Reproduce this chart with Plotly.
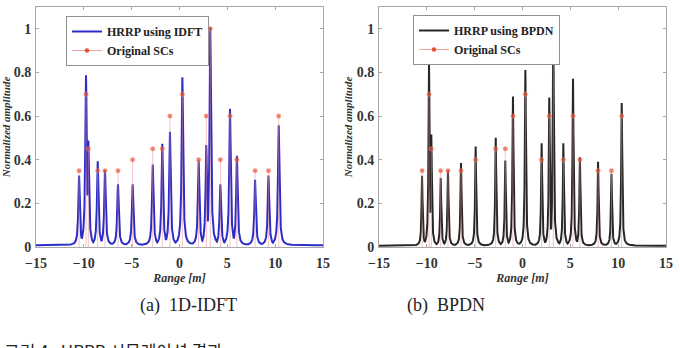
import numpy as np
import plotly.graph_objects as go

# ---- data ----
sc_pos = [-10.5, -9.77, -9.53, -8.55, -7.79, -6.43, -4.9, -2.8, -1.8, -1.0,
          0.3, 2.0, 2.8, 3.22, 4.27, 5.28, 6.0, 7.9, 9.3, 10.37]
sc_amp = [0.35, 0.70, 0.45, 0.35, 0.35, 0.35, 0.40, 0.45, 0.45, 0.60,
          0.70, 0.40, 0.60, 1.00, 0.40, 0.60, 0.40, 0.35, 0.35, 0.60]
idft_peak = [0.32, 0.78, 0.48, 0.385, 0.345, 0.28, 0.28, 0.37, 0.465, 0.52,
             0.77, 0.39, 0.46, 1.00, 0.28, 0.625, 0.41, 0.30, 0.32, 0.55]
bpdn_peak = [0.32, 0.835, 0.51, 0.31, 0.345, 0.38, 0.455, 0.495, 0.39, 0.685,
             0.805, 0.47, 0.68, 1.00, 0.47, 0.765, 0.405, 0.385, 0.33, 0.655]
x_ticks = [-15, -10, -5, 0, 5, 10, 15]
y_ticks = [0, 0.2, 0.4, 0.6, 0.8, 1]
caption_a = "(a)  1D-IDFT"
caption_b = "(b)  BPDN"
fig_caption = "그림 4.  HRRP 시뮬레이션 결과"

# ---- range profiles built from the peak list ----
rng = np.linspace(-15, 15, 4001)


def profile(pos, heights, width, floor):
    prof = np.zeros_like(rng)
    for p, h in zip(pos, heights):
        prof = np.maximum(prof, h / (1 + ((rng - p) / width) ** 2))
    return prof + floor


idft = profile(sc_pos, idft_peak, 0.09, 0.008)
bpdn = profile(sc_pos, bpdn_peak, 0.065, 0.006)

# stems for original scattering centres
stem_x, stem_y, stem_s = [], [], []
for p, a in zip(sc_pos, sc_amp):
    stem_x += [p, p, None]
    stem_y += [0, a, None]
    stem_s += [0, 4.5, 0]

serif = "Liberation Serif"
stem_line = dict(color="rgba(240,140,140,0.55)", width=1)
dot_color = "#e8502a"

fig = go.Figure()
for xa_, ya_, lg, name, y, col in [("x", "y", "legend", "HRRP using IDFT", idft, "#2c2cc8"),
                                    ("x2", "y2", "legend2", "HRRP using BPDN", bpdn, "#262626")]:
    fig.add_trace(go.Scatter(x=rng, y=y, mode="lines", name=name,
                             line=dict(color=col, width=2),
                             xaxis=xa_, yaxis=ya_, legend=lg))
    fig.add_trace(go.Scatter(x=stem_x, y=stem_y, mode="lines+markers", name="Original SCs",
                             line=stem_line, marker=dict(color=dot_color, size=stem_s),
                             xaxis=xa_, yaxis=ya_, showlegend=False))
    fig.add_trace(go.Scatter(x=[None], y=[None], mode="lines+markers", name="Original SCs",
                             line=dict(color="rgba(240,140,140,0.8)", width=1),
                             marker=dict(color=dot_color, size=4.5),
                             xaxis=xa_, yaxis=ya_, legend=lg))

ydom = [1 - 247 / 348, 1 - 7 / 348]
tickfont = dict(family=serif, size=14, color="#333", weight="bold")
axis_common = dict(showline=True, linecolor="#a8a8a8", linewidth=1, mirror="allticks",
                   ticks="inside", ticklen=3, tickcolor="#a8a8a8", showgrid=False,
                   zeroline=False, tickfont=tickfont, automargin=False)

xa = dict(axis_common, range=[-15, 15], tickvals=x_ticks, ticklabelstandoff=3,
          title=dict(text="<i>Range [m]</i>",
                     font=dict(family=serif, size=12, color="#333", weight="bold"),
                     standoff=1))
ya = dict(axis_common, range=[0, 1.1], tickvals=y_ticks, ticktext=["%g" % t for t in y_ticks],
          ticklabelstandoff=1,
          title=dict(text="<i>Normalized amplitude</i>",
                     font=dict(family=serif, size=11, color="#333", weight="bold"),
                     standoff=1))

legend_common = dict(bgcolor="white", bordercolor="#909090", borderwidth=1,
                     font=dict(family=serif, size=12, color="#222", weight="bold"),
                     xanchor="left", yanchor="top",
                     tracegroupgap=0, itemwidth=30)

fig.update_layout(
    width=680, height=348, margin=dict(l=0, r=0, t=0, b=0, autoexpand=False),
    paper_bgcolor="white", plot_bgcolor="white",
    xaxis=dict(xa, domain=[36 / 680, 323 / 680], anchor="y"),
    yaxis=dict(ya, domain=ydom, anchor="x"),
    xaxis2=dict(xa, domain=[379 / 680, 666 / 680], anchor="y2"),
    yaxis2=dict(ya, domain=ydom, anchor="x2"),
    legend=dict(legend_common, x=66 / 680, y=1 - 16 / 348),
    legend2=dict(legend_common, x=413 / 680, y=1 - 15 / 348),
    showlegend=True,
    annotations=[
        dict(text=caption_a, x=138 / 680, y=1 - 318 / 348, xref="paper", yref="paper",
             showarrow=False, font=dict(family=serif, size=18, color="#222")),
        dict(text=caption_b, x=487 / 680, y=1 - 318 / 348, xref="paper", yref="paper",
             showarrow=False, font=dict(family=serif, size=18, color="#222")),
        dict(text=fig_caption, x=2 / 680, y=1 - 336 / 348, xref="paper", yref="paper",
             xanchor="left", yanchor="top", showarrow=False,
             font=dict(family="Noto Sans CJK KR", size=17, color="#222")),
    ],
)

fig.write_html("out.html")
